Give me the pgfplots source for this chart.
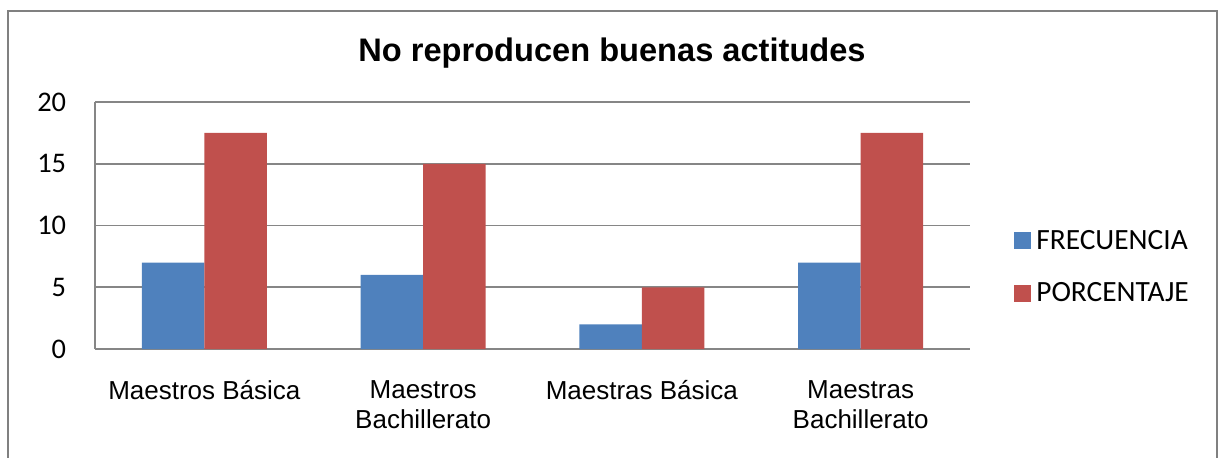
\documentclass[border=0pt]{standalone}
\usepackage{pgfplots}
\pgfplotsset{compat=1.18}
\usepackage{fontspec}
\setmainfont{Liberation Sans}
\newfontfamily\calibri{Carlito}
\definecolor{blueC}{RGB}{79,129,189}
\definecolor{redC}{RGB}{192,80,77}
\definecolor{gridC}{RGB}{134,134,134}
\definecolor{frameC}{RGB}{128,128,128}
\begin{document}
\begin{tikzpicture}
\path[use as bounding box] (0pt,0pt) rectangle (609.5pt,228.5pt);
\draw[frameC, line width=1pt] (3.75pt,-2pt) -- (3.75pt,223.25pt) -- (608.25pt,223.25pt) -- (608.25pt,-2pt);
\node[anchor=base, inner sep=0pt, font=\bfseries\fontsize{16.3}{19}\selectfont] at (306pt,197.75pt) {No reproducen buenas actitudes};
\begin{axis}[
  at={(47.5pt,54pt)}, anchor=south west,
  scale only axis, width=437.5pt, height=123.5pt,
  ybar=0pt, bar width=31.25pt,
  xmin=-0.5, xmax=3.5, ymin=0, ymax=20,
  xtick=data,
  xticklabels={Maestros Básica, {Maestros\\Bachillerato}, Maestras Básica, {Maestras\\Bachillerato}},
  ytick={0,5,10,15,20},
  major tick length=0pt,
  axis x line*=bottom, axis y line*=left,
  axis line style={draw=gridC, line width=0.8pt, -},
  ymajorgrids, grid style={draw=gridC, line width=0.8pt},
  xticklabel style={anchor=north, inner sep=0pt, yshift=-15.6pt, align=center, font=\fontsize{13}{14.85}\selectfont},
  yticklabel style={anchor=east, inner sep=0pt, xshift=-14.25pt, font=\calibri\fontsize{14.2}{17}\selectfont},
  /pgf/number format/assume math mode=true,
  legend style={at={(1,0.332)}, anchor=west, xshift=22pt, draw=none, fill=none, inner sep=0pt,
    font=\calibri\fontsize{14.7}{17}\selectfont, row sep=15pt,
    nodes={inner sep=0pt, anchor=west}},
  legend cell align=left,
  legend image code/.code={\path[#1,draw=none] (0pt,-4.25pt) rectangle (8.5pt,4.25pt);},
]
\addplot[fill=blueC, draw=none] coordinates {(0,7) (1,6) (2,2) (3,7)};
\addplot[fill=redC, draw=none] coordinates {(0,17.5) (1,15) (2,5) (3,17.5)};
\legend{\,FRECUENCIA, \,PORCENTAJE}
\end{axis}
\end{tikzpicture}
\end{document}
